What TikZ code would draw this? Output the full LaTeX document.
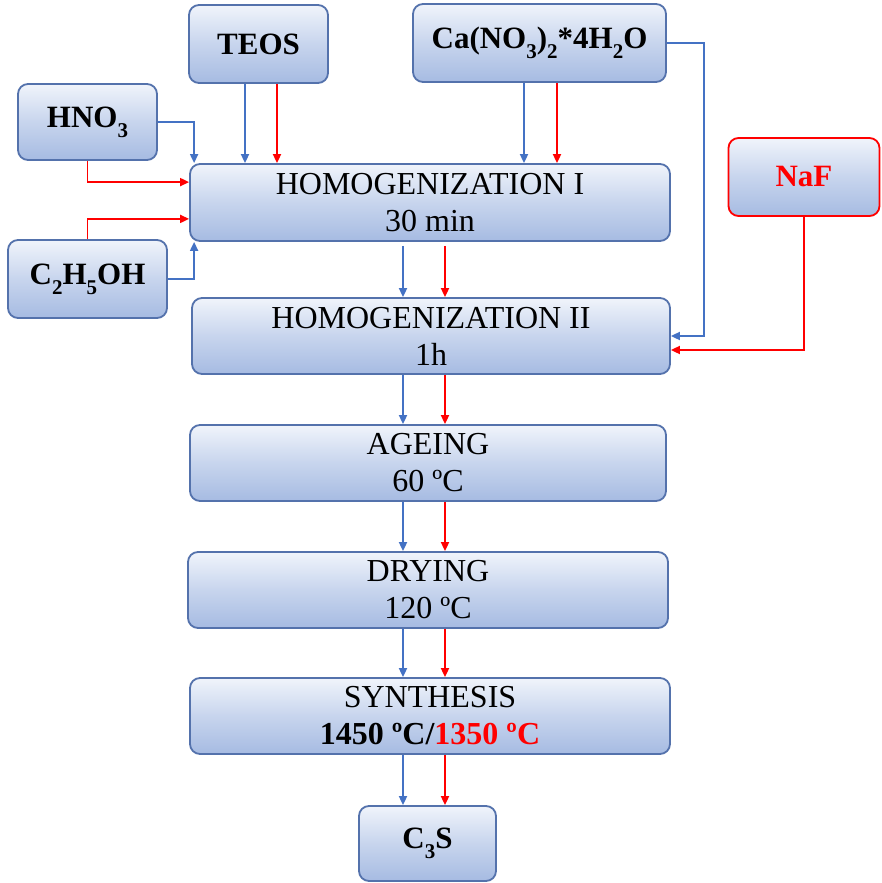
\documentclass[tikz,border=0pt]{standalone}
\usepackage{fontspec}
\setmainfont{Liberation Serif}
\usetikzlibrary{arrows.meta}
\definecolor{boxtop}{RGB}{240,244,251}
\definecolor{boxbot}{RGB}{166,187,226}
\definecolor{boxline}{RGB}{84,114,172}
\definecolor{lineblue}{RGB}{68,114,196}
\definecolor{linered}{RGB}{255,0,0}
\newcommand\sbs[1]{\raisebox{-0.32em}{\fontsize{21}{21}\selectfont #1}}
\tikzset{
  stepbox/.style={rectangle, rounded corners=10pt, draw=boxline, line width=1.8pt,
    top color=boxtop, bottom color=boxbot, middle color=boxtop!45!boxbot,
    align=center, inner sep=0pt, font=\fontsize{32}{37}\selectfont},
  srcbox/.style={stepbox, font=\fontsize{31}{37}\selectfont\bfseries},
  ba/.style={draw=lineblue, line width=1.8pt, -{Triangle[length=9pt,width=8pt]}},
  ra/.style={draw=linered, line width=1.8pt, -{Triangle[length=9pt,width=8pt]}},
}
\begin{document}
\begin{tikzpicture}[x=1pt,y=-1pt]
\useasboundingbox (0,0) rectangle (881,883);
% nodes
\node[srcbox, minimum width=139pt, minimum height=78pt] (teos) at (258.5,44) {TEOS};
\node[srcbox, minimum width=253pt, minimum height=78pt] (ca) at (539.5,43) {Ca(NO\sbs{3})\sbs{2}*4H\sbs{2}O};
\node[srcbox, minimum width=139pt, minimum height=76pt] (hno) at (87.5,122) {HNO\sbs{3}};
\node[srcbox, minimum width=159pt, minimum height=78pt] (eth) at (87.5,279) {C\sbs{2}H\sbs{5}OH};
\node[stepbox, minimum width=480pt, minimum height=77pt] (h1) at (430,202.5) {HOMOGENIZATION I\\30 min};
\node[srcbox, draw=linered, text=linered, minimum width=151pt, minimum height=78pt] (naf) at (804,177) {NaF};
\node[stepbox, minimum width=478pt, minimum height=76pt] (h2) at (431,336) {HOMOGENIZATION II\\1h};
\node[stepbox, minimum width=476pt, minimum height=76pt] (age) at (428,463) {AGEING\\60 ºC};
\node[stepbox, minimum width=480pt, minimum height=76pt] (dry) at (428,590) {DRYING\\120 ºC};
\node[stepbox, minimum width=480pt, minimum height=76pt] (syn) at (430,716) {SYNTHESIS\\\textbf{1450 ºC/\textcolor{linered}{1350 ºC}}};
\node[srcbox, minimum width=137pt, minimum height=75pt] (c3s) at (427.5,843.5) {C\sbs{3}S};
% column coordinates
\coordinate (tb) at (245,0);
\coordinate (tr) at (277,0);
\coordinate (cb) at (524,0);
\coordinate (cr) at (557,0);
\coordinate (mb) at (403,0);
\coordinate (mr) at (445,0);
% connectors into HOMOGENIZATION I
\draw[ba] (teos.south -| tb) -- (h1.north -| tb);
\draw[ra] (teos.south -| tr) -- (h1.north -| tr);
\draw[ba] (ca.south -| cb) -- (h1.north -| cb);
\draw[ra] (ca.south -| cr) -- (h1.north -| cr);
\draw[ba] (hno.east) -| ([xshift=5pt]h1.north west);
\draw[ra] (hno.south) |- ([yshift=-19pt]h1.north west);
\draw[ra] (eth.north) |- ([yshift=23pt]h1.south west);
\draw[ba] (eth.east) -| ([xshift=5pt]h1.south west);
% into HOMOGENIZATION II
\draw[ba] (ca.east) -| ([xshift=33pt]h2.east) -- (h2.east);
\draw[ra] (naf.south) |- ([yshift=-14pt]h2.east);
% main chain
\draw[ba] ([yshift=-4pt]h1.south -| mb) -- (h2.north -| mb);
\draw[ra] ([yshift=-4pt]h1.south -| mr) -- (h2.north -| mr);
\draw[ba] (h2.south -| mb) -- (age.north -| mb);
\draw[ra] (h2.south -| mr) -- (age.north -| mr);
\draw[ba] (age.south -| mb) -- (dry.north -| mb);
\draw[ra] (age.south -| mr) -- (dry.north -| mr);
\draw[ba] (dry.south -| mb) -- (syn.north -| mb);
\draw[ra] (dry.south -| mr) -- (syn.north -| mr);
\draw[ba] (syn.south -| mb) -- (c3s.north -| mb);
\draw[ra] (syn.south -| mr) -- (c3s.north -| mr);
\end{tikzpicture}
\end{document}
